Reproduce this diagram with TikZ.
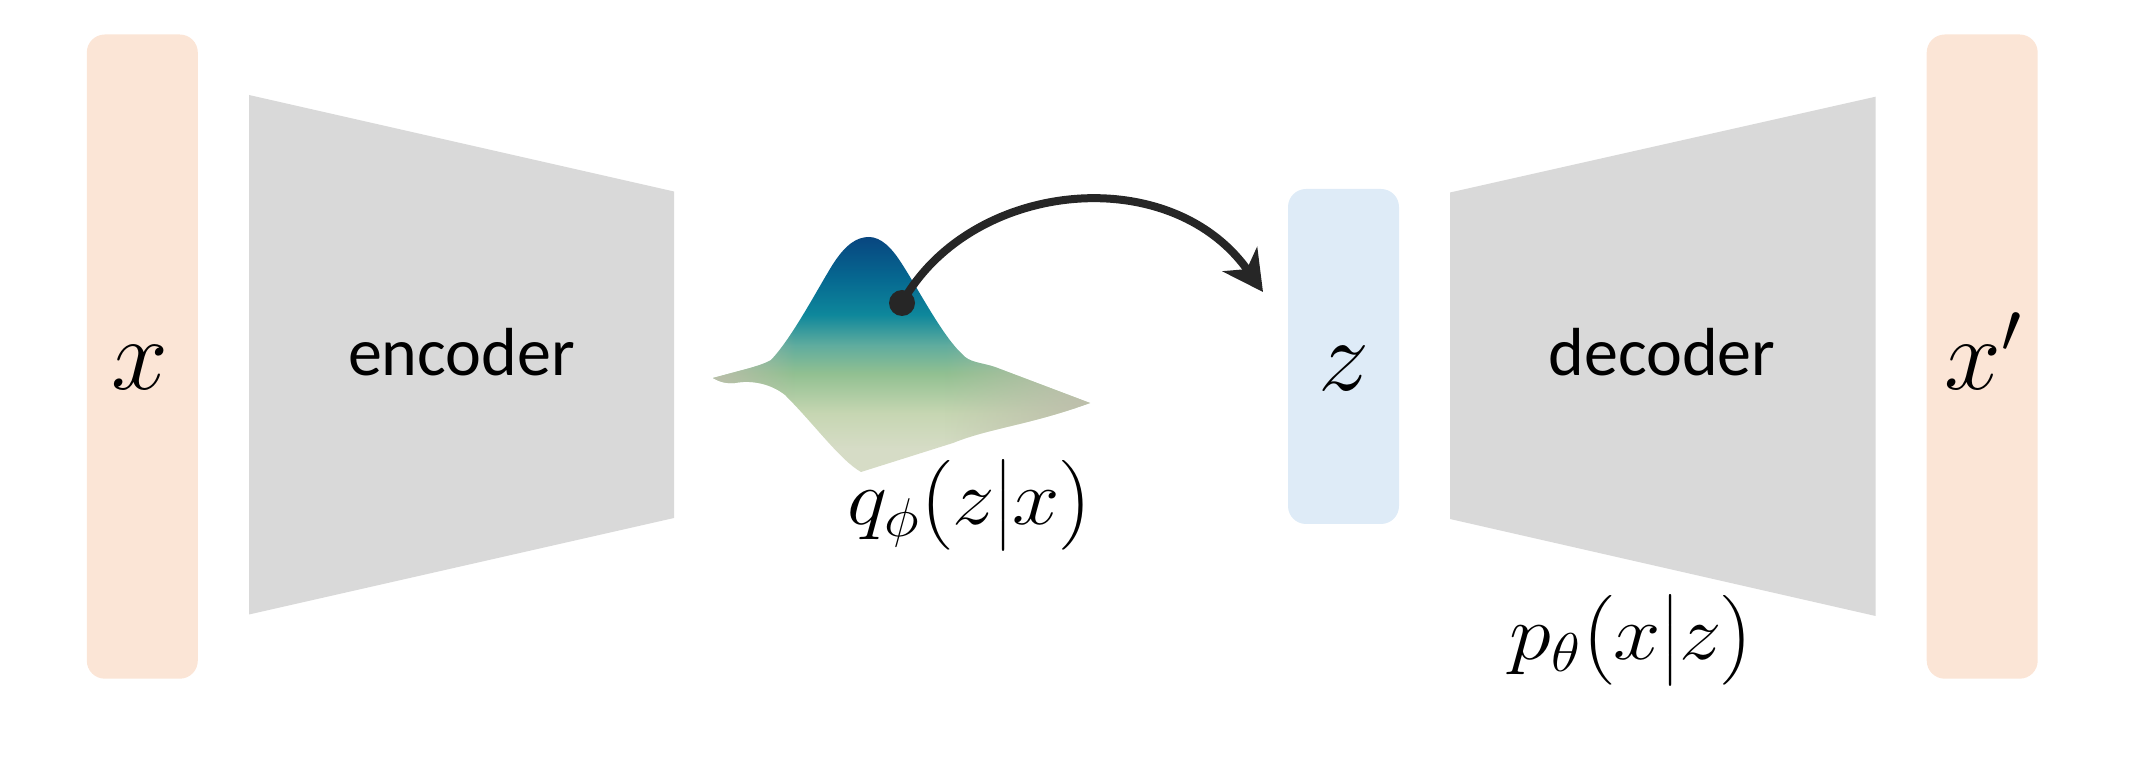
\RequirePackage{fix-cm}
\documentclass[tikz,border=0pt]{standalone}
\usepackage{amsmath}
\usepackage{fontspec}
\newfontfamily\carlito{Carlito}
\usetikzlibrary{arrows.meta,fadings}
\definecolor{peach}{RGB}{251,229,214}
\definecolor{lblue}{RGB}{222,235,247}
\definecolor{trapgray}{RGB}{217,217,217}
\definecolor{inkc}{RGB}{38,38,38}
\definecolor{gtop}{RGB}{8,70,128}
\definecolor{gblue}{RGB}{6,105,145}
\definecolor{gteal}{RGB}{14,135,155}
\definecolor{gmint}{RGB}{95,172,158}
\definecolor{ggreen}{RGB}{145,192,145}
\definecolor{gpale}{RGB}{198,214,178}
\definecolor{gbot}{RGB}{214,220,198}
\definecolor{flange}{RGB}{190,190,172}
\pgfdeclareverticalshading{gaussshade}{100bp}{color(0bp)=(gbot); color(25bp)=(gbot); color(30bp)=(gbot); color(37.5bp)=(gpale); color(46bp)=(ggreen); color(52bp)=(gmint); color(58.5bp)=(gteal); color(66bp)=(gblue); color(75bp)=(gtop); color(100bp)=(gtop)}
\tikzfading[name=fadeToRight, left color=transparent!0, right color=transparent!100]
\tikzfading[name=fadeToLeft, left color=transparent!100, right color=transparent!0]
\begin{document}
\begin{tikzpicture}[x=0.5pt,y=-0.5pt,
  barbox/.style={rectangle, rounded corners=9pt, draw=none, inner sep=0pt, minimum width=55.5pt},
  trapz/.style={fill=trapgray},
  biglab/.style={font=\fontsize{51}{61}\selectfont, inner sep=0pt, anchor=base},
  wordlab/.style={font=\carlito\fontsize{34}{41}\selectfont, inner sep=0pt, anchor=base},
  distlab/.style={font=\fontsize{39}{46.8}\selectfont, inner sep=0pt, anchor=base, transform shape, xscale=1.09},
  samplearrow/.style={draw=inkc, line width=4pt, -{Stealth[length=20pt, width=21pt, inset=6pt]}}]
\useasboundingbox (0,0) rectangle (2142,774);
% input / output bars and latent box
\node[barbox, fill=peach, minimum height=322.1pt] (xbar) at (142.3,356.6) {};
\node[barbox, fill=peach, minimum height=322.1pt] (xpbar) at (1982.2,356.6) {};
\node[barbox, fill=lblue, minimum height=167.5pt] (zbox) at (1343.5,356.5) {};
% encoder / decoder trapezoids
\fill[trapz] (249,95) -- (674,191.5) -- (674,518) -- (249,614.5) -- cycle;
\fill[trapz] (1450,192.5) -- (1875.6,96.7) -- (1875.6,616) -- (1450,519) -- cycle;
% labels
\node[biglab] (xlab) at (140,390) {$x$};
\node[biglab] (zlab) at (1344,391) {$z$};
\node[biglab] (xplab) at (1983,390) {$x'$};
\node[wordlab] (enc) at (461.5,376) {encoder};
\node[wordlab] (dec) at (1662,376) {decoder};
\node[distlab] (qlab) at (970,525) {$q_\phi\bigl(z\big|x\bigr)$};
\node[distlab] (plab) at (1632,660) {$p_\theta\bigl(x\big|z\bigr)$};
% gaussian surface
\def\gausspath{(713,378) -- (750,368) .. controls (760,365) and (766,363) .. (771,360)
  .. controls (792,338) and (818,288) .. (833,264)
  .. controls (846,244) and (857,237) .. (869,237)
  .. controls (881,237) and (892,248) .. (902,264)
  .. controls (920,292) and (942,335) .. (962,354)
  .. controls (970,363) and (980,362) .. (995,367)
  -- (1090,403)
  .. controls (1030,425) and (990,428) .. (953,443)
  -- (861,472)
  .. controls (840,460) and (815,425) .. (785,395)
  .. controls (770,383) and (750,380) .. (735,383)
  .. controls (725,384) and (718,381) .. (713,378) -- cycle}
\begin{scope}
  \clip \gausspath;
  \shade[shading=gaussshade] \gausspath;
  \fill[flange, path fading=fadeToRight] (705,330) rectangle (795,480);
  \fill[flange, path fading=fadeToLeft] (945,330) rectangle (1095,480);
\end{scope}
% sample arrow
\coordinate (samp) at (902,303);
\coordinate (zin) at (1263,292);
\fill[inkc] (samp) circle[radius=6.5pt];
\draw[samplearrow] (samp) .. controls (970,180) and (1170,160) .. (zin);
\end{tikzpicture}
\end{document}
